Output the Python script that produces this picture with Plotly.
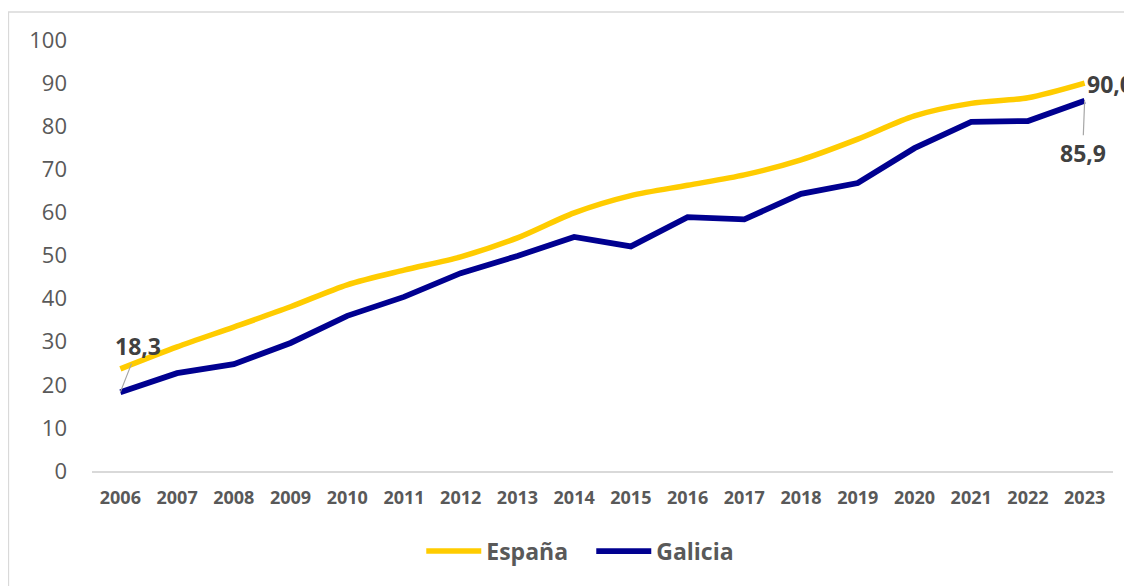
import plotly.graph_objects as go

years = [str(y) for y in range(2006, 2024)]
espana = [23.7, 28.8, 33.4, 38.1, 43.2, 46.6, 49.7, 54.1, 59.9, 63.9, 66.3, 68.7, 72.2, 77.0, 82.4, 85.3, 86.6, 90.0]
galicia = [18.3, 22.7, 24.8, 29.7, 36.0, 40.4, 45.9, 49.9, 54.3, 52.1, 58.9, 58.4, 64.3, 66.8, 74.9, 81.0, 81.2, 85.9]
y_ticks = list(range(0, 101, 10))

YELLOW = "#FFCC00"
NAVY = "#000090"
GREY_TXT = "#595959"
DARK_TXT = "#404040"
FONT = "Open Sans"

xi = list(range(len(years)))

fig = go.Figure()
fig.add_trace(go.Scatter(
    x=xi, y=espana, name="España", mode="lines",
    line=dict(color=YELLOW, width=5.5, shape="spline", smoothing=0.8),
))
fig.add_trace(go.Scatter(
    x=xi, y=galicia, name="Galicia", mode="lines",
    line=dict(color=NAVY, width=5.8),
))

def fmt(v):
    return f"{v:.1f}".replace(".", ",")

# data labels
fig.add_annotation(x=xi[0], y=galicia[0], xref="x", yref="y", text=f"<b>{fmt(galicia[0])}</b>",
                   showarrow=True, arrowhead=0, arrowwidth=1.2, arrowcolor="#A6A6A6",
                   ax=18, ay=-46, font=dict(family=FONT, size=23, color=DARK_TXT))
fig.add_annotation(x=xi[-1], y=galicia[-1], xref="x", yref="y", text=f"<b>{fmt(galicia[-1])}</b>",
                   showarrow=True, arrowhead=0, arrowwidth=1.2, arrowcolor="#A6A6A6",
                   ax=-2, ay=52, font=dict(family=FONT, size=23, color=DARK_TXT))
fig.add_annotation(x=xi[-1], y=espana[-1], xref="x", yref="y", text=f"<b>{fmt(espana[-1])}</b>",
                   showarrow=False, xanchor="left", yanchor="middle", xshift=0, yshift=-1,
                   font=dict(family=FONT, size=23, color=DARK_TXT))

# outer border
fig.add_shape(type="rect", xref="paper", yref="paper",
              x0=(0.5 - 84) / 1021, x1=(1160 - 84) / 1021,
              y0=(463 - 620) / 431, y1=(463 - 4) / 431,
              line=dict(color="#D9D9D9", width=1.3), fillcolor="rgba(0,0,0,0)", layer="below")

fig.update_layout(
    width=1124, height=578,
    margin=dict(l=84, r=19, t=32, b=115),
    paper_bgcolor="white", plot_bgcolor="white",
    showlegend=True,
    legend=dict(orientation="h", x=0.489, xanchor="center", y=-0.186, yanchor="middle",
                font=dict(family=FONT, size=23, color=GREY_TXT, weight="bold"),
                itemwidth=55, entrywidth=100, entrywidthmode="pixels", traceorder="normal"),
    xaxis=dict(range=[-0.5, 17.5], tickvals=xi, ticktext=years, showgrid=False, zeroline=False,
               showline=True, linecolor="#D9D9D9", linewidth=1.5, ticks="",
               tickfont=dict(family=FONT, size=18, color=GREY_TXT, weight="bold"),
               ticklabelstandoff=10),
    yaxis=dict(range=[0, 100], tickvals=y_ticks, showgrid=False, zeroline=False,
               showline=False, ticks="",
               tickfont=dict(family=FONT, size=22, color=GREY_TXT),
               ticklabelstandoff=24),
)

fig.write_html("out.html")
